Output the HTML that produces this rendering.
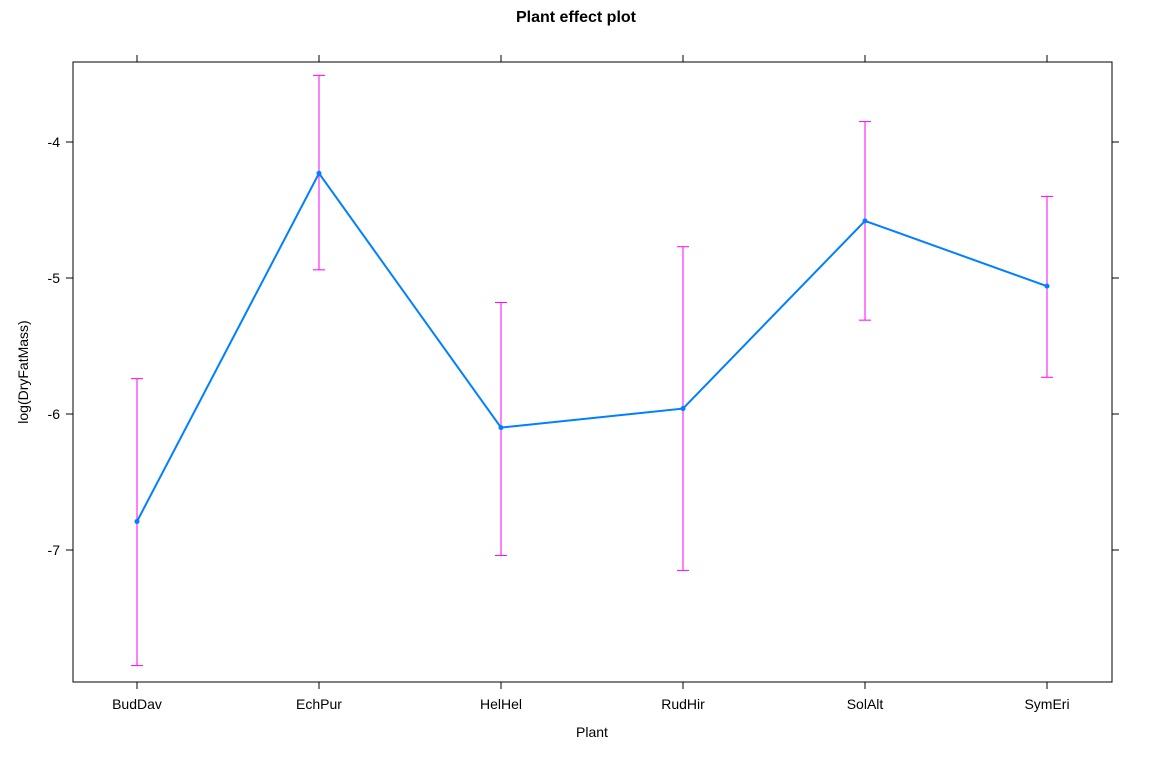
<!DOCTYPE html>
<html><head><meta charset="utf-8"><style>
html,body{margin:0;padding:0;background:#fff;}
svg{display:block;font-family:"Liberation Sans",Arial,sans-serif;}
</style></head><body>
<svg id="chart" width="1150" height="762" viewBox="0 0 1150 762">
<text x="576" y="22" text-anchor="middle" font-size="16" font-weight="bold">Plant effect plot</text>
<rect x="73" y="62" width="1039" height="620" fill="none" stroke="#000" stroke-width="1"/>
<text x="592" y="737" text-anchor="middle" font-size="14">Plant</text>
<text transform="translate(28,372) rotate(-90)" text-anchor="middle" font-size="14">log(DryFatMass)</text>
<g id="axes"></g><g id="marks"></g>
</svg>
<script>
const categories=["BudDav","EchPur","HelHel","RudHir","SolAlt","SymEri"];
const fitValues=[-6.79,-4.23,-6.10,-5.96,-4.58,-5.06];
const upperValues=[-5.74,-3.51,-5.18,-4.77,-3.85,-4.40];
const lowerValues=[-7.85,-4.94,-7.04,-7.15,-5.31,-5.73];
const yTicks=[-4,-5,-6,-7];
const yTickLabels=["-4","-5","-6","-7"];

const NS="http://www.w3.org/2000/svg";
function xs(i){return 137+i*(1047-137)/(categories.length-1);}
function ys(v){return 142+(-4-v)*136;}
function mk(tag,attrs,parent){const e=document.createElementNS(NS,tag);for(const k in attrs)e.setAttribute(k,attrs[k]);parent.appendChild(e);return e;}
const axes=document.getElementById('axes'),marks=document.getElementById('marks');
categories.forEach((c,i)=>{
  const x=xs(i);
  const t1=mk('line',{x1:x,x2:x,y1:682,y2:689,stroke:'#000'},axes);
  
  
  const t2=mk('line',{x1:x,x2:x,y1:55,y2:62,stroke:'#000'},axes);
  
  
  const l=mk('text',{x:x,y:709,'text-anchor':'middle','font-size':'14'},axes);
  l.textContent=c;
  
  
});
yTicks.forEach((v,i)=>{
  const y=ys(v);
  const t1=mk('line',{x1:66,x2:73,y1:y,y2:y,stroke:'#000'},axes);
  
  
  const t2=mk('line',{x1:1112,x2:1119,y1:y,y2:y,stroke:'#000'},axes);
  
  
  const l=mk('text',{x:60,y:y+5,'text-anchor':'end','font-size':'14'},axes);
  l.textContent=yTickLabels[i];
  
  
});
categories.forEach((c,i)=>{
  const x=xs(i);
  const e=mk('line',{x1:x,x2:x,y1:ys(upperValues[i]),y2:ys(lowerValues[i]),stroke:'#ff00ff','stroke-width':1},marks);
  
  
  const cu=mk('line',{x1:x-6,x2:x+6,y1:ys(upperValues[i]),y2:ys(upperValues[i]),stroke:'#ff00ff'},marks);
  
  
  const cl=mk('line',{x1:x-6,x2:x+6,y1:ys(lowerValues[i]),y2:ys(lowerValues[i]),stroke:'#ff00ff'},marks);
  
  
});
const pl=mk('polyline',{points:fitValues.map((v,i)=>xs(i)+','+ys(v)).join(' '),fill:'none',stroke:'#0080ff','stroke-width':2},marks);


fitValues.forEach((v,i)=>{
  const p=mk('circle',{cx:xs(i),cy:ys(v),r:2.5,fill:'#0080ff'},marks);
  
  
});
</script>
</body></html>
